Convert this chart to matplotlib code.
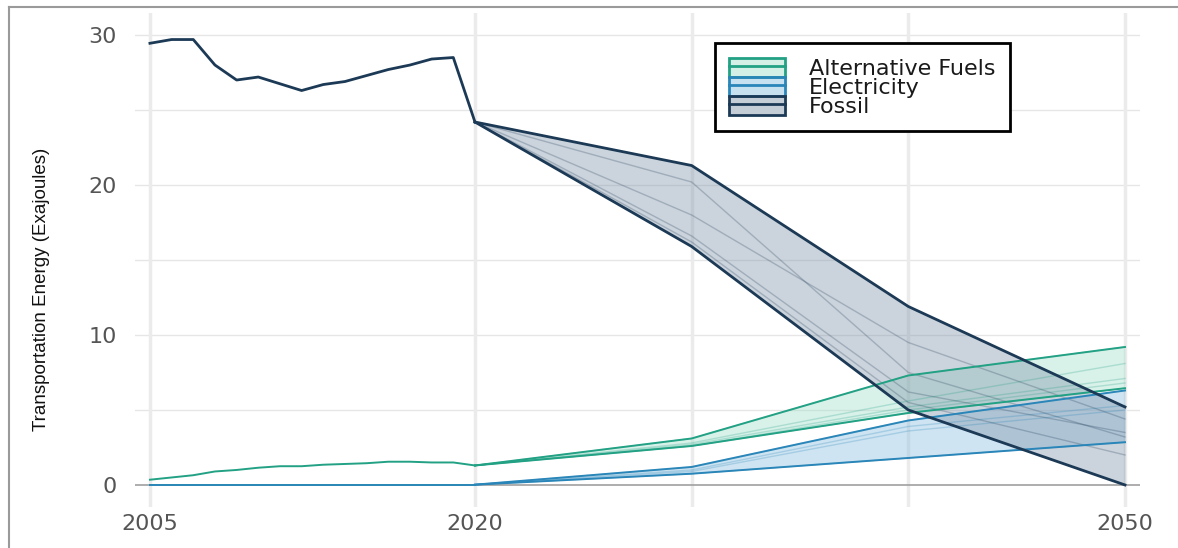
import matplotlib
matplotlib.use("Agg")
import matplotlib.pyplot as plt
import numpy as np
from matplotlib.lines import Line2D
from matplotlib.patches import Patch

# historical record, 2005-2020 (EJ)
hist_years = list(range(2005, 2021))
fossil_hist = [29.45, 29.7, 29.7, 28.0, 27.0, 27.2, 26.75, 26.3, 26.7, 26.9,
               27.3, 27.7, 28.0, 28.4, 28.5, 24.2]
alt_hist = [0.35, 0.5, 0.65, 0.9, 1.0, 1.15, 1.25, 1.25, 1.35, 1.4,
            1.45, 1.55, 1.55, 1.5, 1.5, 1.3]
elec_hist = [0.02] * 16

# scenario projections
proj_years = [2020, 2030, 2040, 2050]
fossil_scen = [
    [24.2, 21.3, 11.9, 5.2],
    [24.2, 20.2, 7.5, 3.2],
    [24.2, 18.0, 9.5, 4.4],
    [24.2, 16.6, 6.2, 3.5],
    [24.2, 16.2, 5.5, 2.0],
    [24.2, 15.9, 5.0, 0.0],
]
alt_scen = [
    [1.3, 3.1, 7.3, 9.2],
    [1.3, 2.8, 5.6, 8.1],
    [1.3, 2.7, 5.2, 7.1],
    [1.3, 2.6, 5.0, 6.8],
    [1.3, 2.6, 4.8, 6.45],
]
elec_scen = [
    [0.02, 1.2, 4.3, 6.3],
    [0.02, 1.0, 3.9, 5.3],
    [0.02, 0.9, 3.6, 5.0],
    [0.02, 0.75, 1.8, 2.85],
]

x_ticks = [2005, 2020, 2050]
y_ticks = [0, 10, 20, 30]

series = [
    ("Alternative Fuels", alt_hist, alt_scen, "#22a184", "#9fdcc8"),
    ("Electricity", elec_hist, elec_scen, "#2a86b8", "#86bde0"),
    ("Fossil", fossil_hist, fossil_scen, "#1c3a56", "#7f93a8"),
]

plt.rcParams["font.family"] = ["DejaVu Sans"]
fig = plt.figure(figsize=(11.78, 5.48), dpi=100)
ax = fig.add_axes([0.1146, 0.0748, 0.8531, 0.9015])

# background grid
for yv in range(5, 35, 5):
    ax.axhline(yv, color="#e6e6e6", lw=1.0, zorder=0)
for xv in [2005, 2020, 2030, 2040, 2050]:
    ax.axvline(xv, color="#ebebeb", lw=2.5, zorder=0)
ax.axhline(0, color="#a0a0a0", lw=1.2, zorder=0.5)

handles = []
for name, hist, scen, line_c, fill_c in series:
    arr = np.array(scen)
    lo = arr.min(axis=0)
    hi = arr.max(axis=0)
    ax.fill_between(proj_years, lo, hi, color=fill_c, alpha=0.4, lw=0, zorder=2)
    for row in arr:
        ax.plot(proj_years, row, color=line_c, lw=1.0, alpha=0.25, zorder=3)
    lw = 2.0 if name == "Fossil" else 1.4
    ax.plot(proj_years, hi, color=line_c, lw=lw, zorder=4)
    ax.plot(proj_years, lo, color=line_c, lw=lw, zorder=4)
    ax.plot(hist_years, hist, color=line_c, lw=lw, zorder=4)
    handles.append((Patch(facecolor=fill_c, alpha=0.45, edgecolor="none"),
                    Patch(facecolor="none", edgecolor=line_c, lw=2.0),
                    Line2D([], [], color=line_c, lw=2.0)))

ax.set_xlim(2004.31, 2050.69)
ax.set_ylim(-1.47, 31.47)
ax.set_xticks(x_ticks)
ax.set_yticks(y_ticks)
ax.tick_params(length=0, labelsize=16, labelcolor="#555555")
ax.tick_params(axis="x", pad=5)
ax.tick_params(axis="y", pad=13)
for s in ax.spines.values():
    s.set_visible(False)

ax.set_ylabel("Transportation Energy (Exajoules)", fontsize=13.5,
              family=["Liberation Sans", "DejaVu Sans"], color="#111111")
ax.yaxis.set_label_coords(-0.085, 0.44)

leg = ax.legend(handles, [s[0] for s in series], loc="upper left",
                bbox_to_anchor=(0.577, 0.939), borderaxespad=0, fontsize=16,
                handlelength=2.5, handleheight=0.95, handletextpad=1.1,
                labelspacing=-0.1, borderpad=0.65, fancybox=False,
                framealpha=1, edgecolor="black")
leg.get_frame().set_linewidth(2.0)
for t in leg.get_texts():
    t.set_color("#1a1a1a")

# outer frame along top and left edges
fig.add_artist(Line2D([9 / 1178, 1], [1 - 7 / 548, 1 - 7 / 548],
                      transform=fig.transFigure, color="#9a9a9a", lw=1.5))
fig.add_artist(Line2D([9 / 1178, 9 / 1178], [0, 1 - 7 / 548],
                      transform=fig.transFigure, color="#9a9a9a", lw=1.5))

plt.savefig("out.png", dpi=100)
plt.close()
